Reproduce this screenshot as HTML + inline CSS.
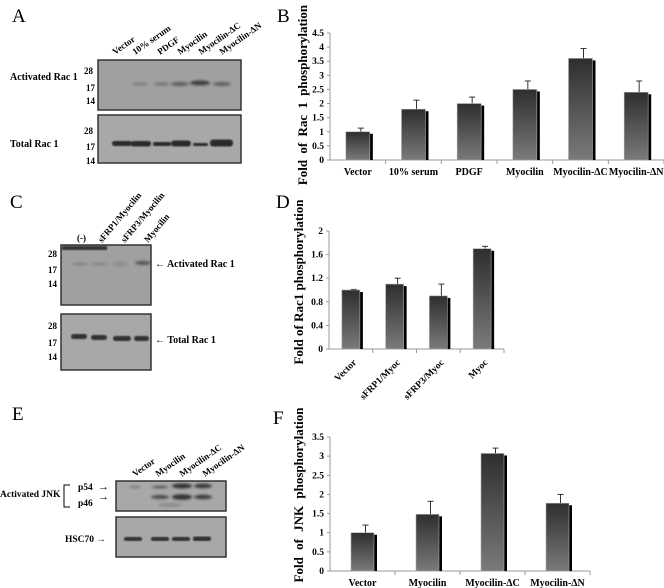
<!DOCTYPE html>
<html><head><meta charset="utf-8"><style>
html,body{margin:0;padding:0;background:#fff;}
svg{display:block;font-family:"Liberation Serif",serif;}
.b{font-weight:bold;}
</style></head><body>
<svg id="fig" width="664" height="588" viewBox="0 0 664 588">
<defs>
<linearGradient id="barg" x1="0" y1="0" x2="0" y2="1"><stop offset="0" stop-color="#2e2e2e"/><stop offset="1" stop-color="#7a7a7a"/></linearGradient>
<filter id="blur" x="-20%" y="-100%" width="140%" height="300%"><feGaussianBlur stdDeviation="1.2"/></filter>
<filter id="blur2"><feGaussianBlur stdDeviation="0.8"/></filter>
</defs>

<text x="12" y="22" font-size="19">A</text>
<text x="277" y="22" font-size="19">B</text>
<text x="10" y="208" font-size="19">C</text>
<text x="276" y="208" font-size="19">D</text>
<text x="12" y="420" font-size="19">E</text>
<text x="273" y="424" font-size="19">F</text>

<!-- Panel A blot -->
<g font-size="9" class="b">
  <g>
    <text transform="translate(115,55) rotate(-35)">Vector</text>
    <text transform="translate(135,55) rotate(-35)">10% serum</text>
    <text transform="translate(160,55) rotate(-35)">PDGF</text>
    <text transform="translate(180,55) rotate(-35)">Myocilin</text>
    <text transform="translate(201,55) rotate(-35)">Myocilin-ΔC</text>
    <text transform="translate(222,55) rotate(-35)">Myocilin-ΔN</text>
  </g>
  <rect x="98" y="60" width="143" height="50" fill="#a0a0a0" stroke="#333" stroke-width="1.5"/>
  <g filter="url(#blur)" fill="#333">
    <ellipse cx="140" cy="84" rx="8" ry="1.5" opacity="0.3"/>
    <ellipse cx="162" cy="84" rx="8" ry="1.5" opacity="0.4"/>
    <ellipse cx="180" cy="84" rx="9" ry="2" opacity="0.6"/>
    <ellipse cx="200" cy="83" rx="10" ry="2.5" opacity="0.9"/>
    <ellipse cx="222" cy="84" rx="9" ry="2" opacity="0.6"/>
  </g>
  <rect x="98" y="115" width="143" height="48" fill="#a8a8a8" stroke="#333" stroke-width="1.5"/>
  <g filter="url(#blur2)" fill="#2a2a2a">
    <rect x="112" y="141" width="20" height="5" rx="2.5"/>
    <rect x="131" y="141" width="20" height="5.5" rx="2.5"/>
    <rect x="153" y="142" width="18" height="4" rx="2"/>
    <rect x="171" y="140.5" width="20" height="6" rx="3"/>
    <rect x="193" y="143" width="15" height="3" rx="1.5"/>
    <rect x="210" y="139.5" width="23" height="7" rx="3"/>
  </g>
  <text x="10" y="80" font-size="10">Activated  Rac 1</text>
  <text x="84" y="74">28</text><text x="86" y="91">17</text><text x="86" y="104">14</text>
  <text x="10" y="147" font-size="10">Total  Rac 1</text>
  <text x="84" y="134">28</text><text x="86" y="150">17</text><text x="86" y="164">14</text>
</g>

<!-- Panel C blot -->
<g font-size="9" class="b">
  <text x="77" y="241">(-)</text>
  <text transform="translate(102,243) rotate(-50)">sFRP1/Myocilin</text>
  <text transform="translate(125,243) rotate(-50)">sFRP3/Myocilin</text>
  <text transform="translate(148,243) rotate(-50)">Myocilin</text>
  <rect x="61" y="245" width="90" height="60" fill="#a0a0a0" stroke="#333" stroke-width="1.5"/>
  <rect x="62" y="246" width="45" height="4" fill="#333" filter="url(#blur2)"/>
  <g filter="url(#blur)" fill="#333">
    <ellipse cx="80" cy="264" rx="8" ry="1.5" opacity="0.25"/>
    <ellipse cx="99" cy="264" rx="8" ry="1.5" opacity="0.25"/>
    <ellipse cx="120" cy="264" rx="8" ry="1.5" opacity="0.2"/>
    <ellipse cx="143" cy="263" rx="8" ry="2" opacity="0.7"/>
  </g>
  <rect x="61" y="314" width="90" height="56" fill="#a8a8a8" stroke="#333" stroke-width="1.5"/>
  <g filter="url(#blur2)" fill="#333">
    <rect x="71" y="334" width="16" height="5" rx="2.5"/>
    <rect x="91" y="335" width="16" height="5" rx="2.5"/>
    <rect x="113" y="336" width="18" height="5" rx="2.5"/>
    <rect x="134" y="336" width="15" height="5" rx="2.5"/>
  </g>
  <text x="48" y="257">28</text><text x="48" y="273">17</text><text x="48" y="287">14</text>
  <text x="48" y="329">28</text><text x="48" y="346">17</text><text x="48" y="360">14</text>
  <text x="155" y="267" font-size="10">← Activated  Rac 1</text>
  <text x="155" y="343" font-size="10">← Total Rac 1</text>
</g>

<!-- Panel E blot -->
<g font-size="9" class="b">
  <text transform="translate(135,477) rotate(-35)">Vector</text>
  <text transform="translate(158,477) rotate(-35)">Myocilin</text>
  <text transform="translate(182,477) rotate(-35)">Myocilin-ΔC</text>
  <text transform="translate(205,477) rotate(-35)">Myocilin-ΔN</text>
  <rect x="116" y="481" width="110" height="30" fill="#a8a8a8" stroke="#333" stroke-width="1.5"/>
  <g filter="url(#blur)" fill="#222">
    <ellipse cx="135" cy="487" rx="6" ry="1.2" opacity="0.3"/>
    <ellipse cx="160" cy="487" rx="8" ry="1.5" opacity="0.55"/>
    <ellipse cx="182" cy="486" rx="10" ry="2.5" opacity="0.9"/>
    <ellipse cx="203" cy="486" rx="9" ry="2.2" opacity="0.85"/>
    <ellipse cx="160" cy="497" rx="9" ry="2" opacity="0.7"/>
    <ellipse cx="182" cy="497" rx="10" ry="2.8" opacity="0.9"/>
    <ellipse cx="203" cy="497" rx="9" ry="2.2" opacity="0.8"/>
    <ellipse cx="170" cy="505" rx="12" ry="1.5" opacity="0.25"/>
  </g>
  <rect x="116" y="517" width="110" height="40" fill="#a8a8a8" stroke="#333" stroke-width="1.5"/>
  <g filter="url(#blur2)" fill="#333">
    <rect x="124" y="537" width="18" height="4" rx="2"/>
    <rect x="151" y="537" width="18" height="4" rx="2"/>
    <rect x="172" y="537" width="18" height="4" rx="2"/>
    <rect x="193" y="536.5" width="18" height="4.5" rx="2"/>
  </g>
  <text x="0" y="497" font-size="9.5">Activated JNK</text>
  <path d="M70,485 H64 V507 H70" fill="none" stroke="#000" stroke-width="1"/>
  <text x="78" y="490" font-size="9.5">p54</text><text x="78" y="506" font-size="9.5">p46</text>
  <text x="98" y="490" font-size="11">→</text><text x="98" y="500" font-size="11">→</text>
  <text x="65" y="542" font-size="9.5">HSC70 →</text>
</g>

<g id="chartB"></g>
<g id="chartD"></g>
<g id="chartF"></g>
</svg>

<script>
// Chart B data
const catsB = ["Vector","10% serum","PDGF","Myocilin","Myocilin-ΔC","Myocilin-ΔN"];
const valsB = [1.0, 1.8, 2.0, 2.5, 3.6, 2.4];
const errsB = [0.13, 0.32, 0.23, 0.3, 0.35, 0.4];
const ticksB = ["0","0.5","1","1.5","2","2.5","3","3.5","4","4.5"];
// Chart D data
const catsD = ["Vector","sFRP1/Myoc","sFRP3/Myoc","Myoc"];
const valsD = [1.0, 1.1, 0.9, 1.7];
const errsD = [0.01, 0.1, 0.2, 0.04];
const ticksD = ["0","0.4","0.8","1.2","1.6","2"];
// Chart F data
const catsF = ["Vector","Myocilin","Myocilin-ΔC","Myocilin-ΔN"];
const valsF = [1.0, 1.48, 3.07, 1.77];
const errsF = [0.2, 0.34, 0.14, 0.23];
const ticksF = ["0","0.5","1","1.5","2","2.5","3","3.5"];

const NS = "http://www.w3.org/2000/svg";
function mk(parent, tag, attrs, txt){
  const e = document.createElementNS(NS, tag);
  for (const k in attrs) e.setAttribute(k, attrs[k]);
  if (txt !== undefined) e.textContent = txt;
  parent.appendChild(e);
  return e;
}
function chart(gid, cats, vals, errs, ticks, cfg){
  const g = document.getElementById(gid);
  const maxV = parseFloat(ticks[ticks.length-1]);
  const y = v => cfg.y0 - (v / maxV) * (cfg.y0 - cfg.yTop);
  const step = (cfg.x1 - cfg.x0) / cats.length;
  const x = i => cfg.x0 + step * (i + 0.5);
  const ax = mk(g, "path", {d:`M${cfg.x0},${cfg.yTop} V${cfg.y0} H${cfg.x1}`, fill:"none", stroke:"#999", "stroke-width":1});
  
  
  ticks.forEach(t => {
    const yy = y(parseFloat(t));
    mk(g, "line", {x1:cfg.x0-3, x2:cfg.x0, y1:yy, y2:yy, stroke:"#999"});
    const tl = mk(g, "text", {x:cfg.x0-6, y:yy+3, "text-anchor":"end", "font-size":9.5, "font-weight":"bold"}, t);
    
    
  });
  for (let i = 1; i <= cats.length; i++) {
    const xx = cfg.x0 + step * i;
    mk(g, "line", {x1:xx, x2:xx, y1:cfg.y0, y2:cfg.y0+4, stroke:"#999"});
  }
  cats.forEach((c, i) => {
    const cx = x(i), top = y(vals[i]), etop = y(vals[i] + errs[i]);
    const hw = cfg.bw / 2;
    mk(g, "line", {x1:cx+3, x2:cx+3, y1:etop, y2:top, stroke:"#333", "stroke-width":1});
    mk(g, "line", {x1:cx, x2:cx+6, y1:etop, y2:etop, stroke:"#333", "stroke-width":1});
    const sh = mk(g, "rect", {x:cx-hw+3, y:top+2, width:cfg.bw, height:cfg.y0-top-2, fill:"#000"});
    
    
    const b = mk(g, "rect", {x:cx-hw, y:top, width:cfg.bw, height:cfg.y0-top, fill:"url(#barg)", stroke:"#aaa", "stroke-width":0.6});
    
    
    let lab;
    if (cfg.rot) {
      lab = mk(g, "text", {transform:`translate(${cx+6},${cfg.y0+14}) rotate(-45)`, "text-anchor":"end", "font-size":9.5, "font-weight":"bold"}, c);
    } else {
      lab = mk(g, "text", {x:cx, y:cfg.y0+15, "text-anchor":"middle", "font-size":10, "font-weight":"bold"}, c);
    }
    
    
  });
  const t = mk(g, "text", {transform:`translate(${cfg.tx},${cfg.ty}) rotate(-90)`, "text-anchor":"middle", "font-size":13, "font-weight":"bold", "word-spacing":cfg.ws||0}, cfg.title);
  
  
}
chart("chartB", catsB, valsB, errsB, ticksB, {x0:330, x1:664, y0:160, yTop:33, bw:24, tx:307, ty:95, title:"Fold of Rac 1 phosphorylation", ws:3});
chart("chartD", catsD, valsD, errsD, ticksD, {x0:329, x1:504, y0:349, yTop:231, bw:18, tx:303, ty:282, title:"Fold of Rac1 phosphorylation", rot:true});
chart("chartF", catsF, valsF, errsF, ticksF, {x0:330, x1:590, y0:571, yTop:437, bw:23, tx:303, ty:495, title:"Fold of JNK phosphorylation", ws:4});
</script>
</body></html>
